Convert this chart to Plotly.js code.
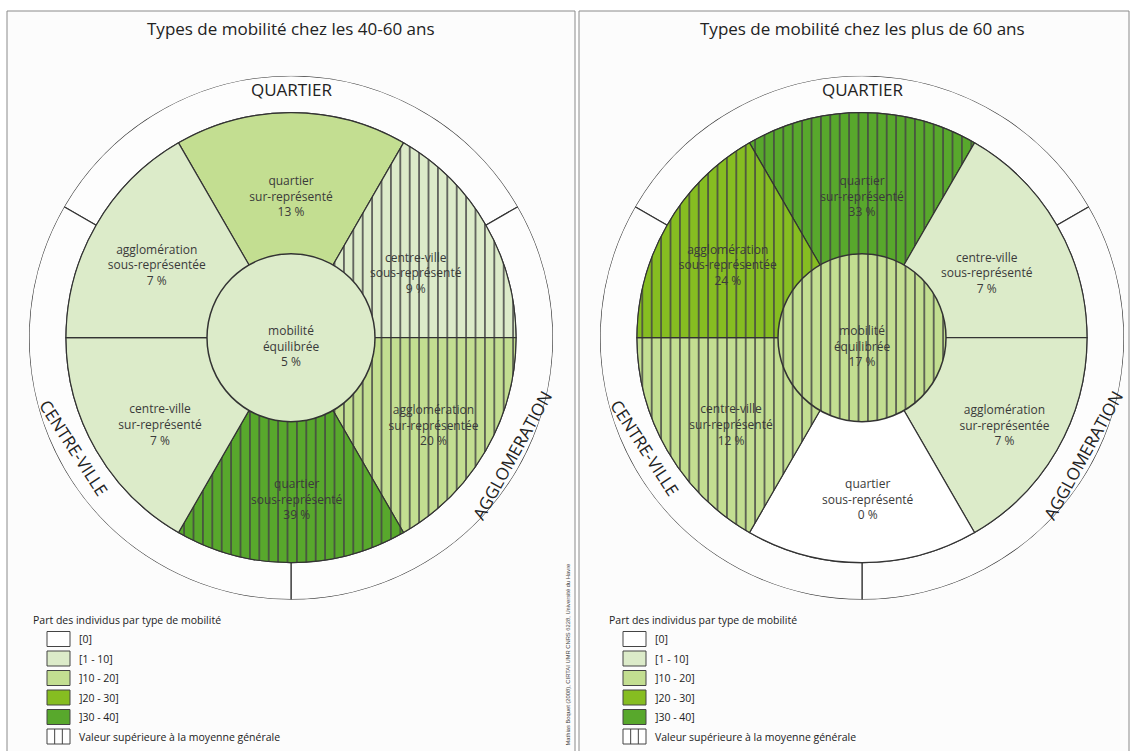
<!DOCTYPE html>
<html><head><meta charset="utf-8">
<script src="https://cdn.plot.ly/plotly-3.0.1.min.js"></script>
<style>html,body{margin:0;padding:0;background:#fff}</style>
</head><body><div id="chart" style="width:1134px;height:751px"></div>
<script>
// ---------- DATA ----------
const chartTitles = ['Types de mobilité chez les 40-60 ans', 'Types de mobilité chez les plus de 60 ans'];
// sectors, clockwise starting from the top
const sectorTypes = ['quartier<br>sur-représenté', 'centre-ville<br>sous-représenté', 'agglomération<br>sur-représentée',
                     'quartier<br>sous-représenté', 'centre-ville<br>sur-représenté', 'agglomération<br>sous-représentée'];
const centerType = 'mobilité<br>équilibrée';
const ringLabels = ['QUARTIER', 'AGGLOMERATION', 'CENTRE-VILLE']; // clockwise from top

const values4060 = [13, 9, 20, 39, 7, 7];
const center4060 = 5;
const hatch4060 = [false, true, true, true, false, false];
const centerHatch4060 = false;

const values60 = [33, 7, 7, 0, 12, 24];
const center60 = 17;
const hatch60 = [true, false, false, false, true, true];
const centerHatch60 = true;

const legendTitle = 'Part des individus par type de mobilité';
const classLabels = ['[0]', '[1 - 10]', ']10 - 20]', ']20 - 30]', ']30 - 40]'];
const classUpper = [0, 10, 20, 30, 40];
const hatchLabel = 'Valeur supérieure à la moyenne générale';
const credit = 'Mathias Boquet (2008), CIRTAI UMR CNRS 6228, Université du Havre';

// ---------- STYLE / LAYOUT ----------
const W = 1134, H = 751;
const classColors = ['#ffffff', '#dcebc9', '#c3de91', '#86bd21', '#58a82c'];
const FONT = 'Open Sans, Noto Sans, sans-serif';
const TXT = '#3a3a3a';
const LINE = '#333333';
const RING_OUT = 262, SECTOR_R = 225, INNER_R = 84;
const CY = 337.7;
const panels = [
  {cx: 291, x0: 7, x1: 575, legX: 47},
  {cx: 862, x0: 579, x1: 1129, legX: 623}
];
// label placement inside each sector (radius, angle) – layout only
const labelPlace = [{r: 140, a: 90}, {r: 140, a: 27}, {r: 168, a: 328}, {r: 163, a: 272}, {r: 158, a: 214}, {r: 152, a: 152}];
const centerLabelPlace = {r: 10, a: 270};
const ringLabelPos = [{a: 90, r: 248, rot: 0}, {a: 332, r: 250, rot: -61}, {a: 207, r: 243, rot: 57}];
const px = x => x / W, py = y => 1 - y / H;

function colorFor(v) {
  for (let i = 0; i < classUpper.length; i++) if (v <= classUpper[i]) return classColors[i];
  return classColors[classColors.length - 1];
}

const datasets = [
  {values: values4060, center: center4060, hatch: hatch4060, centerHatch: centerHatch4060},
  {values: values60, center: center60, hatch: hatch60, centerHatch: centerHatch60}
];

const traces = [];
const layout = {
  width: W, height: H, margin: {l: 0, r: 0, t: 0, b: 0},
  paper_bgcolor: '#ffffff', showlegend: false,
  font: {family: FONT, color: TXT},
  shapes: [], annotations: []
};

const sectorTheta = sectorTypes.map((_, i) => 90 - i * 60);
const ringTheta = ringLabels.map((_, i) => 90 - i * 120);

datasets.forEach((d, k) => {
  const P = panels[k];
  const pid = k === 0 ? 'polar' : 'polar2';
  layout[pid] = {
    domain: {x: [px(P.cx - RING_OUT), px(P.cx + RING_OUT)], y: [py(CY + RING_OUT), py(CY - RING_OUT)]},
    bgcolor: 'rgba(0,0,0,0)', barmode: 'overlay',
    radialaxis: {visible: false, range: [0, RING_OUT]},
    angularaxis: {visible: false, rotation: 0, direction: 'counterclockwise'}
  };
  const pattern = (shapes, bg) => ({shape: shapes, bgcolor: bg, fgcolor: '#2b2b2b', fgopacity: 1,
    size: 9.4, solidity: 0.16, fillmode: 'overlay'});
  const sectorColors = d.values.map(colorFor);
  const centerColor = colorFor(d.center);
  // outer ring
  traces.push({type: 'barpolar', subplot: pid, r: ringLabels.map(() => RING_OUT - SECTOR_R), base: ringLabels.map(() => SECTOR_R),
    theta: ringTheta, width: ringLabels.map(() => 120), hoverinfo: 'skip',
    marker: {color: '#fdfdfd', line: {color: LINE, width: 1.2}}});
  // sectors
  traces.push({type: 'barpolar', subplot: pid, r: d.values.map(() => SECTOR_R), theta: sectorTheta,
    width: d.values.map(() => 60), hoverinfo: 'skip',
    marker: {color: sectorColors, line: {color: LINE, width: 1.2},
      pattern: pattern(d.hatch.map(h => h ? '|' : ''), sectorColors)}});
  // centre
  traces.push({type: 'barpolar', subplot: pid, r: [INNER_R], theta: [0], width: [360], hoverinfo: 'skip',
    marker: {color: [centerColor], line: {color: LINE, width: 1.5},
      pattern: pattern([d.centerHatch ? '|' : ''], [centerColor])}});
  // labels
  traces.push({type: 'scatterpolar', subplot: pid, mode: 'text', hoverinfo: 'skip',
    r: labelPlace.map(p => p.r).concat([centerLabelPlace.r]), theta: labelPlace.map(p => p.a).concat([centerLabelPlace.a]),
    text: d.values.map((v, i) => sectorTypes[i] + '<br>' + v + ' %').concat([centerType + '<br>' + d.center + ' %']),
    textfont: {family: FONT, size: 12, color: TXT}});

  // panel frame
  layout.shapes.push({type: 'rect', xref: 'paper', yref: 'paper', layer: 'below',
    x0: px(P.x0), x1: px(P.x1), y0: -0.05, y1: py(11), fillcolor: '#fcfcfc', line: {color: '#8a8a8a', width: 1}});
  // title
  layout.annotations.push({xref: 'paper', yref: 'paper', x: px(P.cx), y: py(28.5), text: chartTitles[k], showarrow: false,
    xanchor: 'center', yanchor: 'middle', font: {family: FONT, size: 17, color: '#222'}});
  // ring labels
  ringLabels.forEach((lab, i) => {
    const L = ringLabelPos[i];
    const a = L.a * Math.PI / 180;
    layout.annotations.push({xref: 'paper', yref: 'paper', showarrow: false, text: lab,
      x: px(P.cx + L.r * Math.cos(a)), y: py(CY - L.r * Math.sin(a)), xanchor: 'center', yanchor: 'middle',
      textangle: L.rot, font: {family: FONT, size: 17, color: '#222'}});
  });
  // legend
  const rowY = [639, 658.5, 678, 697.5, 717, 736.5];
  layout.annotations.push({xref: 'paper', yref: 'paper', x: px(P.legX - 16), y: py(620), text: legendTitle, showarrow: false,
    xanchor: 'left', yanchor: 'middle', font: {family: FONT, size: 10.5, color: '#222'}});
  classLabels.forEach((lab, i) => {
    layout.shapes.push({type: 'rect', xref: 'paper', yref: 'paper', x0: px(P.legX), x1: px(P.legX + 23),
      y0: py(rowY[i] + 7.5), y1: py(rowY[i] - 7.5), fillcolor: classColors[i], line: {color: '#444', width: 1}});
    layout.annotations.push({xref: 'paper', yref: 'paper', x: px(P.legX + 30), y: py(rowY[i]), text: lab, showarrow: false,
      xanchor: 'left', yanchor: 'middle', font: {family: FONT, size: 10.5, color: '#222'}});
  });
  const hy = rowY[5];
  layout.shapes.push({type: 'rect', xref: 'paper', yref: 'paper', x0: px(P.legX), x1: px(P.legX + 23),
    y0: py(hy + 7.5), y1: py(hy - 7.5), fillcolor: '#ffffff', line: {color: '#444', width: 1}});
  [1, 2].forEach(j => layout.shapes.push({type: 'line', xref: 'paper', yref: 'paper',
    x0: px(P.legX + 23 * j / 3), x1: px(P.legX + 23 * j / 3), y0: py(hy + 7.5), y1: py(hy - 7.5), line: {color: '#444', width: 1}}));
  layout.annotations.push({xref: 'paper', yref: 'paper', x: px(P.legX + 30), y: py(hy), text: hatchLabel, showarrow: false,
    xanchor: 'left', yanchor: 'middle', font: {family: FONT, size: 10.5, color: '#222'}});
});

// credit
layout.annotations.push({xref: 'paper', yref: 'paper', x: px(567.5), y: py(655), text: credit, showarrow: false,
  textangle: -90, xanchor: 'center', yanchor: 'middle', font: {family: 'Liberation Sans, sans-serif', size: 5.8, color: '#444'}});

Plotly.newPlot('chart', traces, layout, {staticPlot: true, displayModeBar: false});
</script></body></html>
